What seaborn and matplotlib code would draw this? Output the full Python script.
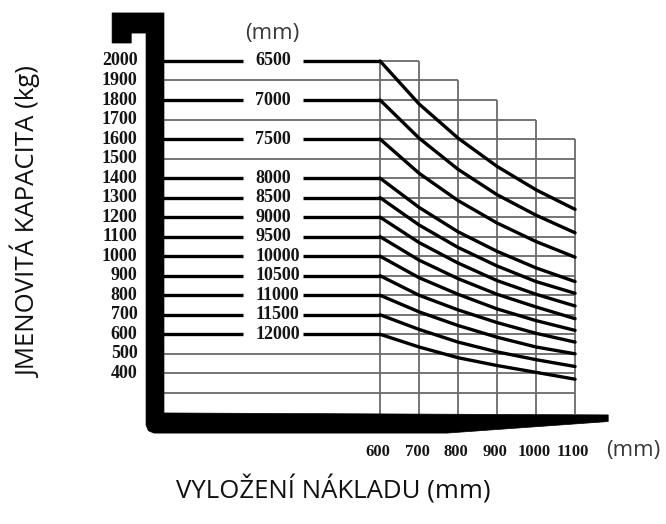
import matplotlib
matplotlib.use("Agg")
import matplotlib.pyplot as plt
from matplotlib.patches import Polygon
import seaborn as sns
import pandas as pd

# load chart data: reach (mm) vs capacity (kg) per lift height (mm)
reach = [600, 700, 800, 900, 1000, 1100]
heights = [6500, 7000, 7500, 8000, 8500, 9000, 9500, 10000, 10500, 11000, 11500, 12000]
cap_6500 = [2000, 1780, 1605, 1460, 1340, 1240]
cap_7000 = [1800, 1605, 1445, 1315, 1210, 1120]
cap_7500 = [1600, 1425, 1285, 1170, 1075, 995]
cap_8000 = [1400, 1250, 1125, 1025, 940, 870]
cap_8500 = [1300, 1160, 1045, 950, 870, 810]
cap_9000 = [1200, 1070, 965, 875, 805, 745]
cap_9500 = [1100, 980, 885, 805, 740, 680]
cap_10000 = [1000, 890, 805, 730, 670, 620]
cap_10500 = [900, 800, 725, 660, 605, 560]
cap_11000 = [800, 715, 645, 585, 535, 500]
cap_11500 = [700, 625, 560, 510, 470, 435]
cap_12000 = [600, 535, 480, 440, 405, 370]
caps = [cap_6500, cap_7000, cap_7500, cap_8000, cap_8500, cap_9000,
        cap_9500, cap_10000, cap_10500, cap_11000, cap_11500, cap_12000]

ytick_vals = [2000, 1900, 1800, 1700, 1600, 1500, 1400, 1300, 1200, 1100,
              1000, 900, 800, 700, 600, 500, 400]
grid_levels = ytick_vals + [300]
col_tops = [2000, 1900, 1800, 1700, 1600]  # top of each grid column

rows = []
for h, c in zip(heights, caps):
    for x, y in zip(reach, c):
        rows.append({"height": h, "reach": x, "kg": y})
df = pd.DataFrame(rows)

sns.set_style("white")
fig = plt.figure(figsize=(6.66, 5.24), dpi=100)
ax = fig.add_axes([0.149, 0.1683, 0.8257, 0.8122])
ax.set_xlim(-120, 1290)
ax.set_ylim(80, 2260)
ax.axis("off")

grid_c = "#6a6a6a"
num_font = dict(fontweight="bold", family="Liberation Serif", color="#151515")
series_levels = [c[0] for c in caps]

# thin lines on the left part (non-series levels)
for lv in grid_levels:
    if lv not in series_levels:
        ax.hlines(lv, 40, 600, color=grid_c, lw=1.3, zorder=1)

# stepped grid on the right part
for lv in grid_levels:
    right = 600
    for i, top in enumerate(col_tops):
        if top >= lv:
            right = reach[i + 1]
    ax.hlines(lv, 600, right, color=grid_c, lw=1.3, zorder=1)
ax.vlines(600, 190, 2000, color=grid_c, lw=1.3, zorder=1)
for i, top in enumerate(col_tops):
    ax.vlines(reach[i + 1], 190, top, color=grid_c, lw=1.3, zorder=1)

# thick lead-in lines with height labels
for h, c in zip(heights, caps):
    ax.hlines(c[0], 40, 249, color="black", lw=2.4, zorder=3)
    ax.hlines(c[0], 403, 600, color="black", lw=2.4, zorder=3)
    ax.text(280, c[0], str(h), ha="left", va="center", fontsize=13, **num_font)

sns.lineplot(data=df, x="reach", y="kg", units="height", estimator=None,
             color="black", lw=2.4, ax=ax, zorder=3, legend=False)
ax.set_xlabel("")
ax.set_ylabel("")
ax.axis("off")

# L-shaped fork frame
frame = Polygon([(-87, 2246), (46, 2246), (46, 197), (1185, 187), (1185, 153),
                 (772, 94), (20, 94), (6, 106), (0, 135), (0, 2143),
                 (-38, 2143), (-38, 2092), (-87, 2092)],
                closed=True, facecolor="black", edgecolor="black", lw=0.5, zorder=4)
ax.add_patch(frame)

# tick labels
for v in ytick_vals:
    ax.text(-22, v, str(v), ha="right", va="center", fontsize=13, **num_font)
for v in reach:
    ax.text(v - 5, -3, str(v), ha="center", va="center", fontsize=12, **num_font)

ax.text(323, 2143, "(mm)", ha="center", va="center", fontsize=16,
        family="Open Sans", color="#3a3a3a")
ax.text(1249, 7, "(mm)", ha="center", va="center", fontsize=16,
        family="Open Sans", color="#3a3a3a")

fig.text(27 / 666, 1 - 222 / 524, "JMENOVITÁ KAPACITA (kg)", rotation=90,
         ha="center", va="center", fontsize=18.5, family="Open Sans", color="#111111")
fig.text(333 / 666, 1 - 490 / 524, "VYLOŽENÍ NÁKLADU (mm)",
         ha="center", va="center", fontsize=18.5, family="Open Sans", color="#111111")

fig.savefig("out.png", dpi=100)
